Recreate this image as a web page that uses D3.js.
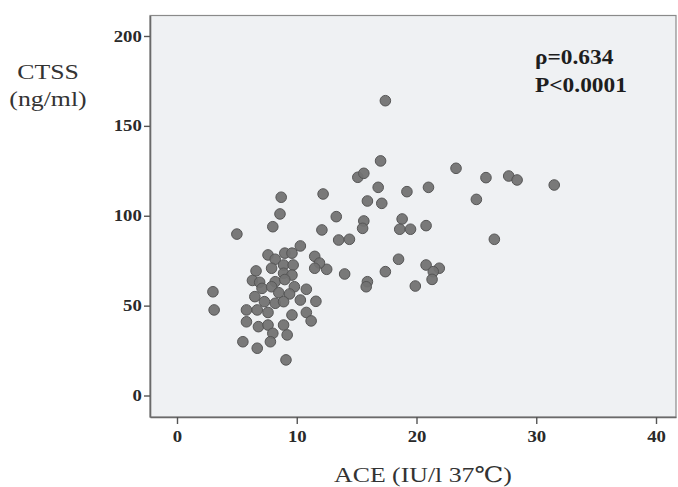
<!DOCTYPE html>
<html>
<head>
<meta charset="utf-8">
<script src="https://cdn.jsdelivr.net/npm/d3@7"></script>
<style>
  html, body { margin: 0; padding: 0; background: #ffffff; }
  svg { display: block; }
</style>
</head>
<body>
<svg id="chart" width="678" height="487"></svg>
<script>
// ---- data ----
const aceValues = [
  17.4, 17.0, 15.1, 15.6, 23.3, 16.8, 21.0, 19.2, 25.0, 12.2,
  8.7, 15.9, 17.1, 13.3, 8.6, 15.6, 15.5, 18.8, 18.6, 19.5,
  20.8, 12.1, 13.5, 14.4, 10.3, 18.5, 20.8, 21.9, 21.4, 21.3,
  17.4, 14.0, 19.9, 15.9, 15.8, 12.5, 11.5, 11.9, 11.5, 25.8,
  27.7, 28.4, 31.5, 26.5, 8.0, 5.0,
  7.6, 8.2, 9.0, 9.6, 6.6, 7.9, 8.9, 9.7, 8.9, 9.6,
  6.3, 6.9, 8.2, 9.0, 7.1, 7.9, 9.8, 10.8,
  6.5, 7.3, 8.5, 9.4, 8.2, 8.9, 10.3, 11.6,
  5.8, 6.7, 7.6, 9.6, 10.8, 11.2,
  5.8, 6.8, 7.6, 8.0, 8.9, 9.2, 7.8, 5.5, 6.7, 9.1,
  3.0, 3.1
];
const ctssValues = [
  164.0, 130.5, 121.4, 123.6, 126.4, 115.8, 115.8, 113.4, 109.1, 112.1,
  110.3, 108.2, 106.9, 99.5, 101.0, 97.1, 93.0, 98.2, 92.5, 92.5,
  94.5, 92.1, 86.5, 86.9, 83.2, 75.8, 72.6, 70.8, 68.9, 64.6,
  68.9, 67.6, 60.9, 63.3, 60.5, 70.2, 77.4, 73.7, 70.8, 121.2,
  122.1, 119.9, 117.1, 86.9, 93.9, 89.8,
  78.2, 75.8, 79.2, 79.2, 69.3, 70.8, 72.6, 72.6, 68.0, 67.0,
  64.0, 63.0, 63.3, 64.5, 59.6, 60.5, 60.5, 59.1,
  55.0, 52.2, 57.2, 56.5, 51.3, 52.2, 53.1, 52.4,
  47.6, 47.6, 46.2, 44.8, 46.2, 41.5,
  41.0, 38.3, 39.2, 34.6, 39.2, 33.7, 29.9, 29.9, 26.3, 19.8,
  57.7, 47.6
];
const xTicks = [0, 10, 20, 30, 40];
const yTicks = [0, 50, 100, 150, 200];
const xTitle = "ACE (IU/l 37\u2103)";
const yTitleLines = ["CTSS", "(ng/ml)"];
const statLines = ["\u03c1=0.634", "P<0.0001"];

const points = aceValues.map((v, i) => ({ ace: v, ctss: ctssValues[i] }));

// ---- layout ----
const box = { left: 150, top: 15.5, right: 676, bottom: 417 };
const svg = d3.select("#chart");
const serif = "'Liberation Serif', 'DejaVu Serif', serif";
const stretch = 1.17;

const x = d3.scaleLinear().domain([-2.255, 41.67]).range([box.left, box.right]);
const y = d3.scaleLinear().domain([-11.96, 211.4]).range([box.bottom, box.top]);

// plot background + frame
svg.append("rect")
  .attr("x", box.left).attr("y", box.top)
  .attr("width", box.right - box.left).attr("height", box.bottom - box.top)
  .attr("fill", "#eff1f3")
  .attr("stroke", "#8a8a8a").attr("stroke-width", 1.2);

// axes
const xAxis = svg.append("g")
  .attr("transform", `translate(0,${box.bottom})`)
  .call(d3.axisBottom(x).tickValues(xTicks).tickSize(7).tickSizeOuter(0));
xAxis.select(".domain").attr("stroke", "#6a6a6a").attr("stroke-width", 1.6);
xAxis.selectAll(".tick line").attr("stroke", "#555").attr("stroke-width", 1.4);
xAxis.selectAll(".tick text")
  .attr("y", 25.5).attr("dy", 0)
  .attr("transform", `scale(${stretch},1)`)
  .attr("font-family", serif).attr("font-weight", "bold")
  .attr("font-size", 16).attr("fill", "#2a2a2a");

const yAxis = svg.append("g")
  .attr("transform", `translate(${box.left},0)`)
  .call(d3.axisLeft(y).tickValues(yTicks).tickSize(6).tickPadding(1).tickSizeOuter(0));
yAxis.select(".domain").attr("stroke", "#6a6a6a").attr("stroke-width", 1.6);
yAxis.selectAll(".tick line").attr("stroke", "#555").attr("stroke-width", 1.4);
yAxis.selectAll(".tick text")
  .attr("transform", `scale(${stretch},1)`)
  .attr("font-family", serif).attr("font-weight", "bold")
  .attr("font-size", 16).attr("fill", "#2a2a2a");

// points
svg.append("g")
  .selectAll("circle")
  .data(points)
  .join("circle")
  .attr("cx", d => x(d.ace))
  .attr("cy", d => y(d.ctss))
  .attr("r", 5.3)
  .attr("fill", "#727272")
  .attr("stroke", "#565656")
  .attr("stroke-width", 1)
  .attr("fill-opacity", 0.95);

// statistics annotation
svg.append("g")
  .attr("transform", "translate(535,0)")
  .selectAll("text")
  .data(statLines)
  .join("text")
  .attr("transform", (d, i) => `translate(0,${64 + i * 28}) scale(${stretch},1)`)
  .attr("font-family", serif).attr("font-weight", "bold")
  .attr("font-size", 20).attr("fill", "#1e1e1e")
  .text(d => d);

// y title
svg.append("g")
  .selectAll("text")
  .data(yTitleLines)
  .join("text")
  .attr("transform", (d, i) => `translate(48,${79 + i * 27}) scale(1.2,1)`)
  .attr("text-anchor", "middle")
  .attr("font-family", serif)
  .attr("font-size", 21.5).attr("fill", "#333")
  .text(d => d);

// x title
svg.append("text")
  .attr("transform", `translate(423,482) scale(1.2,1)`)
  .attr("text-anchor", "middle")
  .attr("font-family", serif)
  .attr("font-size", 21.5).attr("fill", "#333")
  .text(xTitle);
</script>
</body>
</html>
